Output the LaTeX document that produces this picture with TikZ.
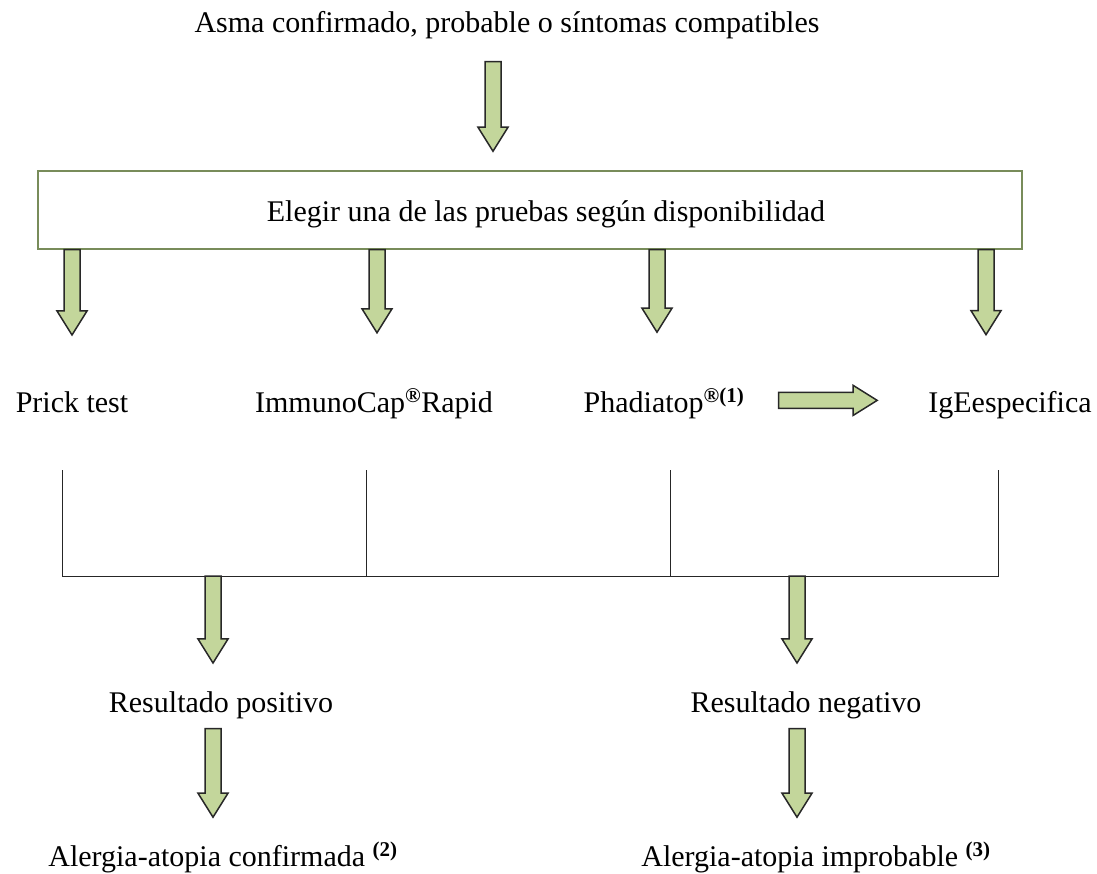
\documentclass[tikz,border=0pt]{standalone}
\usepackage{fontspec}
\setmainfont{Liberation Serif}
\usetikzlibrary{calc}
\definecolor{arrowfill}{RGB}{195,214,155}
\definecolor{arrowline}{RGB}{40,40,40}
\definecolor{boxline}{RGB}{120,140,90}

\newcommand\fatdown[2]{%
  \path[fat] let \p1=(#1), \p2=(#2) in
    (\x2-8pt,\y1) -- (\x2-8pt,\y2+24pt) -- (\x2-15pt,\y2+24pt) -- (\x2,\y2)
    -- (\x2+15pt,\y2+24pt) -- (\x2+8pt,\y2+24pt) -- (\x2+8pt,\y1) -- cycle;}
\newcommand\fatright[2]{%
  \path[fat] let \p1=(#1), \p2=(#2) in
    (\x1,\y1+8pt) -- (\x2-24pt,\y1+8pt) -- (\x2-24pt,\y1+15pt) -- (\x2,\y1)
    -- (\x2-24pt,\y1-15pt) -- (\x2-24pt,\y1-8pt) -- (\x1,\y1-8pt) -- cycle;}

\begin{document}
\begin{tikzpicture}[x=1pt,y=-1pt]
    \tikzstyle{lbl} = [inner sep=0pt,anchor=base,font=\fontsize{30}{36}\selectfont]
    \tikzstyle{fat} = [draw=arrowline,fill=arrowfill,line width=1.5pt,line join=miter]
    \tikzstyle{bracket} = [draw=black!85,line width=1pt]
    \useasboundingbox (0,0) rectangle (1097,874);
    \node [lbl] (top) at (507,33) {Asma confirmado, probable o síntomas compatibles};
    \node [draw=boxline,line width=1.5pt,minimum width=984,minimum height=78,inner sep=0pt] (box) at (530,210) {};
    \node [lbl] (elegir) at (546,222) {Elegir una de las pruebas según disponibilidad};
    \node [lbl] (prick) at (72,412) {Prick test};
    \node [lbl] (immuno) at (374,412) {ImmunoCap\textsuperscript{\bfseries\textregistered}Rapid};
    \node [lbl] (phad) at (664,412) {Phadiatop\textsuperscript{\bfseries\textregistered(1)}};
    \node [lbl] (ige) at (1010,412) {IgEespecifica};
    \node [lbl] (pos) at (221,712) {Resultado positivo};
    \node [lbl] (neg) at (806,712) {Resultado negativo};
    \node [lbl] (conf) at (223,866) {Alergia-atopia confirmada \textsuperscript{\bfseries(2)}};
    \node [lbl] (impr) at (816,866) {Alergia-atopia improbable \textsuperscript{\bfseries(3)}};
    \fatdown{$(top.south)+(0,22)$}{$(box.north -| top)+(-14,-19)$}
    \fatdown{box.south}{$(prick.north)+(0,-56)$}
    \fatdown{box.south}{$(immuno.north)+(3,-56)$}
    \fatdown{box.south}{$(phad.north)+(-7,-56)$}
    \fatdown{box.south}{$(ige.north)+(-24,-56)$}
    \fatright{$(phad.east)+(34,-3)$}{$(ige.west)+(-51,0)$}
    \foreach \x/\n in {62/1,366/2,670/3,998/4} {
      \coordinate (t\n) at (\x,470);
      \coordinate (b\n) at (\x,576);
    }
    \draw [bracket] (t1) -- (b1) -- (b4) -- (t4);
    \draw [bracket] (t2) -- (b2);
    \draw [bracket] (t3) -- (b3);
    \fatdown{b1}{$(pos.north)+(-8,-28)$}
    \fatdown{b4}{$(neg.north)+(-9,-28)$}
    \fatdown{$(pos.south)+(0,10)$}{$(conf.north)+(-10,-25)$}
    \fatdown{$(neg.south)+(0,10)$}{$(impr.north)+(-19,-25)$}
  \end{tikzpicture}
\end{document}
